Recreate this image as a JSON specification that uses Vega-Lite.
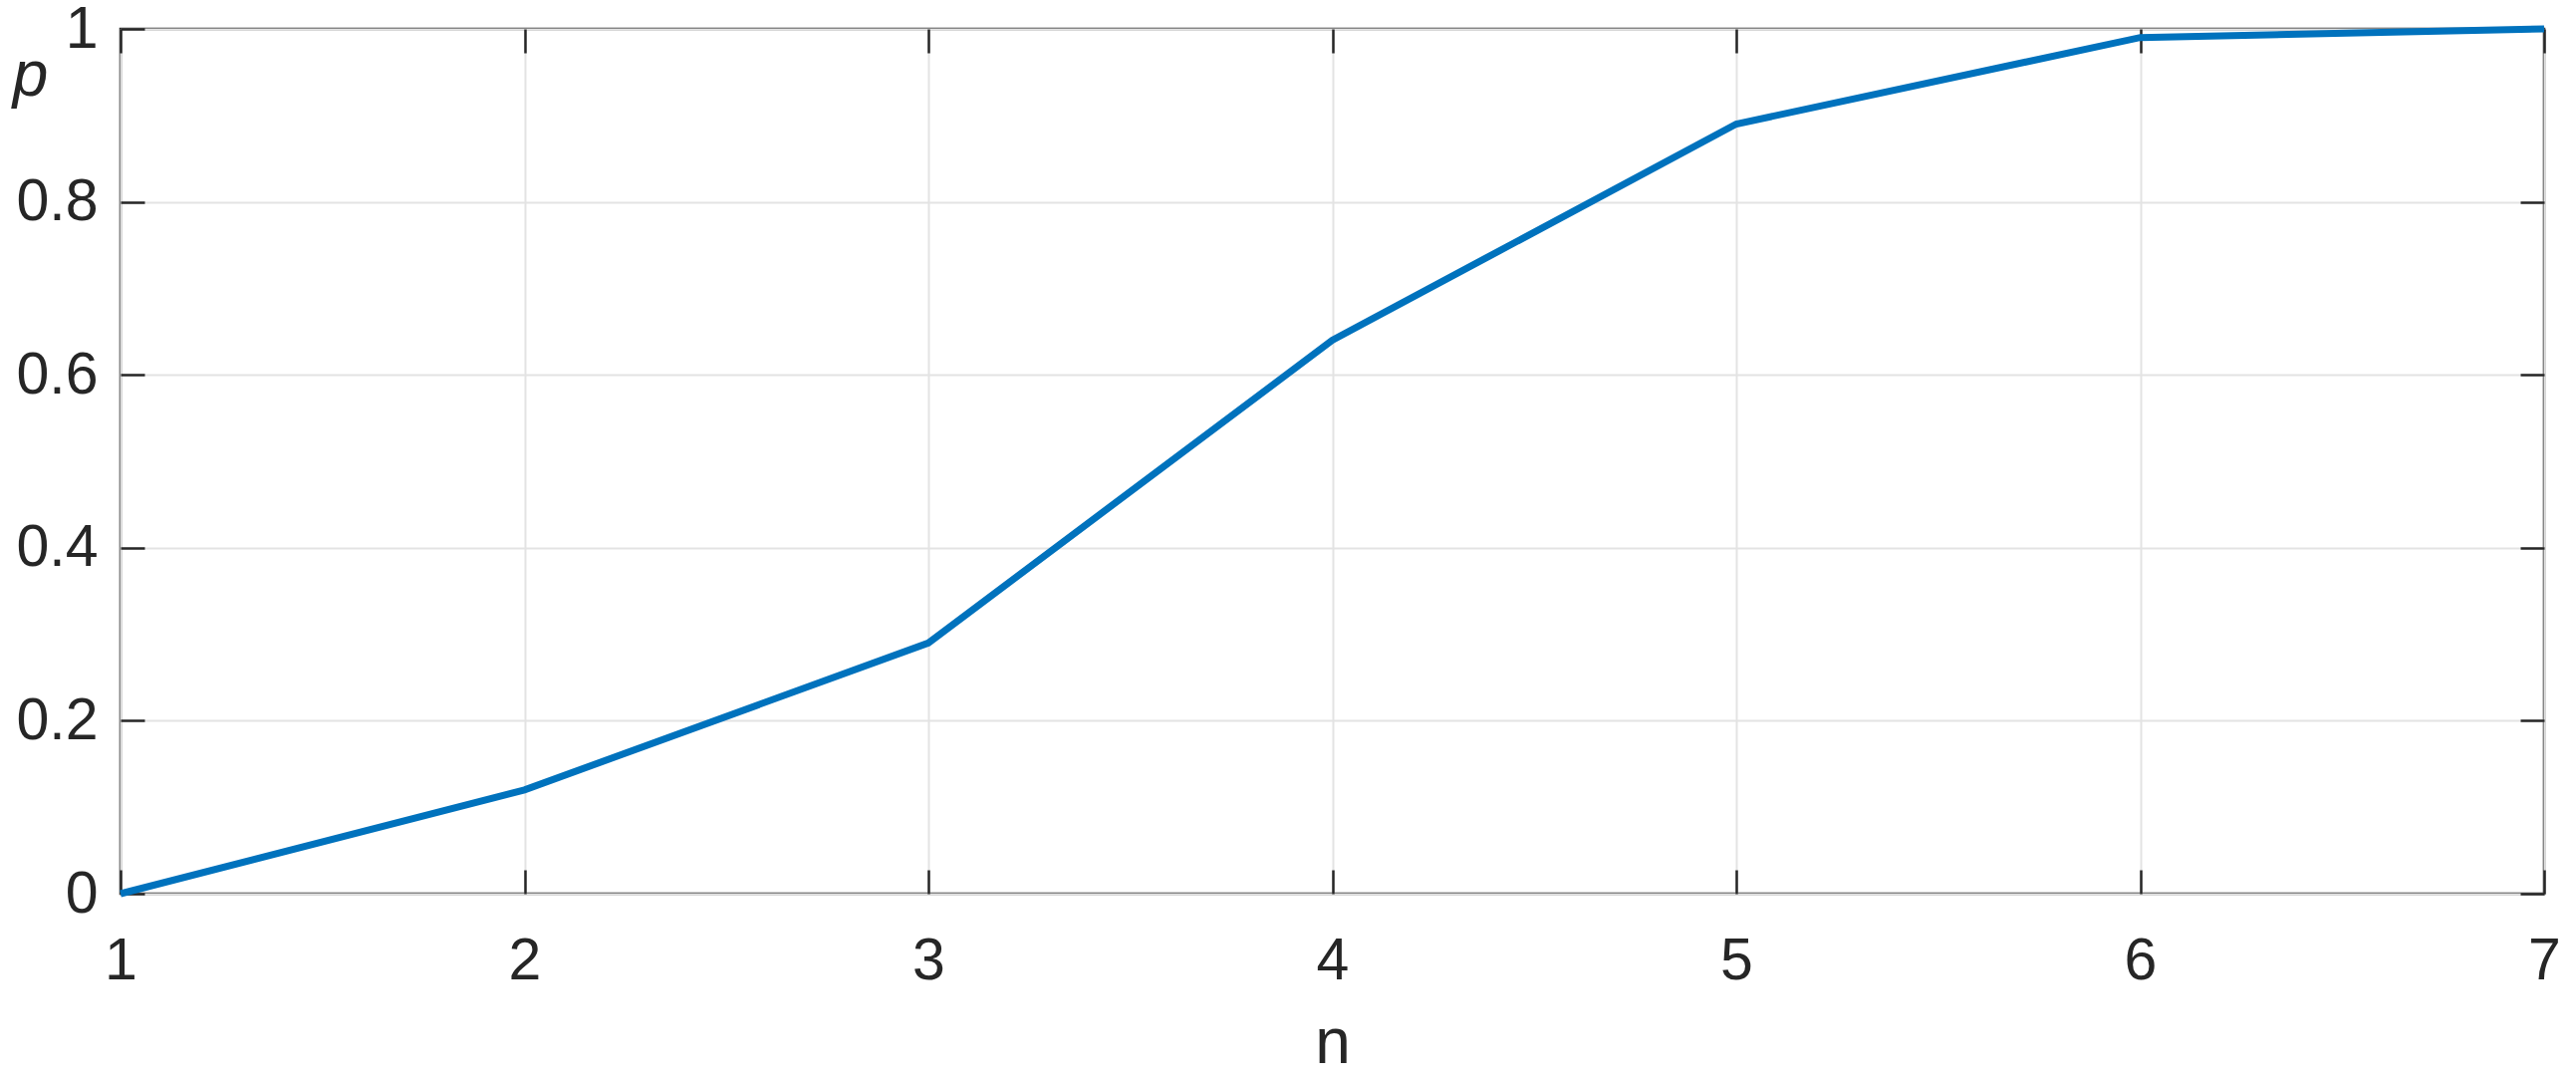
{
  "$schema": "https://vega.github.io/schema/vega-lite/v6.json",
  "autosize": "none",
  "width": 2433,
  "height": 868,
  "padding": {"left": 121, "top": 29, "right": 32, "bottom": 187},
  "background": "white",
  "config": {
    "view": {"stroke": "#262626", "strokeWidth": 2.5},
    "axis": {
      "font": "Liberation Sans",
      "labelFont": "Liberation Sans",
      "titleFont": "Liberation Sans",
      "labelFontSize": 59,
      "titleFontSize": 64,
      "labelColor": "#262626",
      "titleColor": "#262626",
      "titleFontWeight": "normal",
      "domain": false,
      "tickColor": "#262626",
      "tickWidth": 2.5,
      "gridColor": "#e3e3e3",
      "gridWidth": 2
    }
  },
  "data": {"values": [
    {"n": 1, "p": 0},
    {"n": 2, "p": 0.12},
    {"n": 3, "p": 0.29},
    {"n": 4, "p": 0.64},
    {"n": 5, "p": 0.89},
    {"n": 6, "p": 0.99},
    {"n": 7, "p": 1.0}
  ]},
  "layer": [
    {
      "mark": {"type": "line", "color": "#0072BD", "strokeWidth": 7, "clip": false},
      "encoding": {
        "x": {"field": "n", "type": "quantitative", "scale": {"domain": [1, 7], "nice": false, "zero": false},
          "axis": {"orient": "bottom", "values": [1,2,3,4,5,6,7], "format": "d", "tickSize": -24, "labelPadding": 109, "labelBaseline": "alphabetic", "grid": true, "title": "n", "titleY": 169, "titleBaseline": "alphabetic", "labelFlush": false}},
        "y": {"field": "p", "type": "quantitative", "scale": {"domain": [0, 1], "nice": false},
          "axis": {"orient": "left", "values": [0,0.2,0.4,0.6,0.8,1], "format": "~g", "tickSize": -24, "labelPadding": 47, "grid": true, "title": "p", "titleAngle": 0, "titleFontStyle": "italic", "titleX": -91, "titleY": 66, "titleAlign": "center", "titleBaseline": "alphabetic", "labelFlush": false}}
      }
    },
    {
      "mark": {"type": "line", "opacity": 0},
      "encoding": {
        "x": {"field": "n", "type": "quantitative",
          "axis": {"orient": "top", "values": [1,2,3,4,5,6,7], "labels": false, "tickSize": -24, "grid": false, "title": null}},
        "y": {"field": "p", "type": "quantitative",
          "axis": {"orient": "right", "values": [0,0.2,0.4,0.6,0.8,1], "labels": false, "tickSize": -24, "grid": false, "title": null}}
      }
    }
  ],
  "resolve": {"axis": {"x": "independent", "y": "independent"}}
}
